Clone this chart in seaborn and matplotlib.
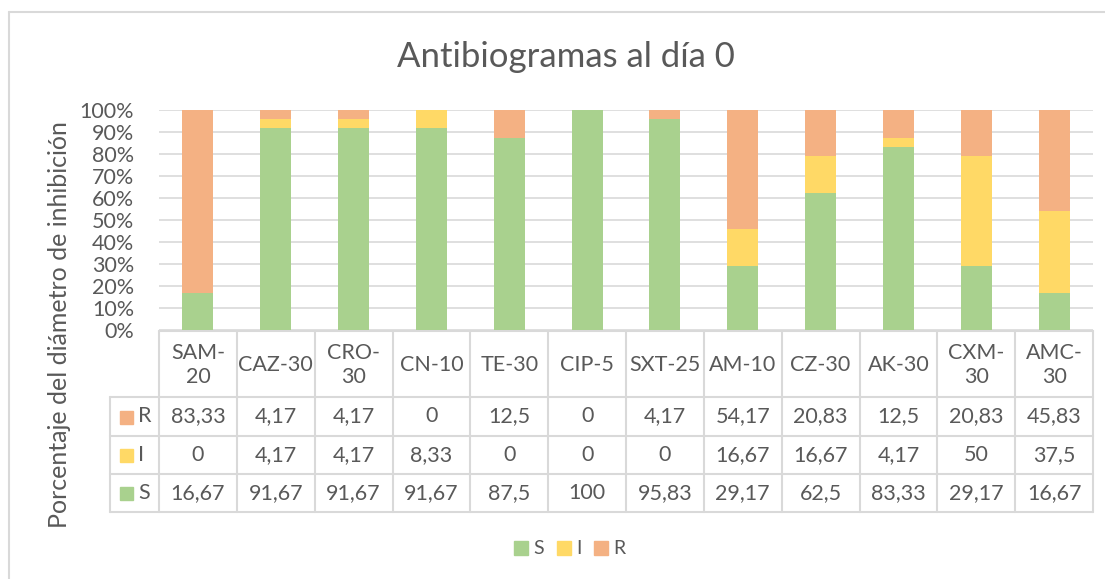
import numpy as np
import pandas as pd
import matplotlib
matplotlib.use("Agg")
import matplotlib.pyplot as plt
import seaborn as sns
from matplotlib.patches import Rectangle
from matplotlib.lines import Line2D

antibioticos = ['SAM-20', 'CAZ-30', 'CRO-30', 'CN-10', 'TE-30', 'CIP-5',
                'SXT-25', 'AM-10', 'CZ-30', 'AK-30', 'CXM-30', 'AMC-30']
etiquetas = ['SAM-\n20', 'CAZ-30', 'CRO-\n30', 'CN-10', 'TE-30', 'CIP-5',
             'SXT-25', 'AM-10', 'CZ-30', 'AK-30', 'CXM-\n30', 'AMC-\n30']
S = [16.67, 91.67, 91.67, 91.67, 87.5, 100, 95.83, 29.17, 62.5, 83.33, 29.17, 16.67]
I = [0, 4.17, 4.17, 8.33, 0, 0, 0, 16.67, 16.67, 4.17, 50, 37.5]
R = [83.33, 4.17, 4.17, 0, 12.5, 0, 4.17, 54.17, 20.83, 12.5, 20.83, 45.83]

colores = {'S': '#A9D18E', 'I': '#FFD966', 'R': '#F4B183'}
gris = '#595959'
borde = '#D9D9D9'

sns.set_theme(style='white')
plt.rcParams['font.family'] = ['Lato', 'DejaVu Sans']

W, H = 1105, 579
fig = plt.figure(figsize=(W / 100, H / 100), dpi=100)

x0, x1 = 159, 1093
y_top, y_cero = 110, 330
ax = fig.add_axes([x0 / W, 1 - y_cero / H, (x1 - x0) / W, (y_cero - y_top) / H])

df = pd.DataFrame({'ab': antibioticos, 'S': S, 'I': I, 'R': R})
base_i = np.array(S)
base_r = np.array(S) + np.array(I)
opts = dict(x='ab', width=0.4, ax=ax, saturation=1, zorder=3,
            edgecolor='none', linewidth=0)
sns.barplot(data=df, y='S', color=colores['S'], **opts)
sns.barplot(data=df, y='I', color=colores['I'], bottom=base_i, **opts)
sns.barplot(data=df, y='R', color=colores['R'], bottom=base_r, **opts)

ax.set_xlim(-0.5, 11.5)
ax.set_ylim(0, 100)
ax.set_yticks(np.arange(0, 101, 10))
ax.set_yticklabels([f'{v}%' for v in range(0, 101, 10)], fontsize=15.5, color=gris)
ax.tick_params(axis='y', length=0, pad=18)
ax.set_xticks([])
ax.set_xlabel('')
ax.set_ylabel('')
ax.yaxis.grid(True, color=borde, linewidth=1.2, zorder=0)
for s in ax.spines.values():
    s.set_visible(False)

# tabla de datos
tx = fig.add_axes([0, 0, 1, 1], zorder=-1)
tx.set_xlim(0, W)
tx.set_ylim(H, 0)
tx.axis('off')

cw = (x1 - x0) / 12
filas = [331, 397, 436, 474, 512]
hx = 110
lw = 1.5
tx.add_line(Line2D([x0, x1], [filas[0], filas[0]], color=borde, lw=lw))
for yy in filas[1:]:
    tx.add_line(Line2D([hx, x1], [yy, yy], color=borde, lw=lw))
for k in range(13):
    xx = x0 + k * cw
    tx.add_line(Line2D([xx, xx], [filas[0], filas[-1]], color=borde, lw=lw))
tx.add_line(Line2D([hx, hx], [filas[1], filas[-1]], color=borde, lw=lw))

for k, lab in enumerate(etiquetas):
    tx.text(x0 + (k + 0.5) * cw, (filas[0] + filas[1]) / 2 + 1, lab, ha='center',
            va='center', fontsize=15.5, color=gris, linespacing=1.2)

series = [('R', R), ('I', I), ('S', S)]
for j, (nombre, vals) in enumerate(series):
    yc = (filas[j + 1] + filas[j + 2]) / 2
    tx.add_patch(Rectangle((120, yc - 6), 13, 13, color=colores[nombre]))
    tx.text(138, yc, nombre, ha='left', va='center', fontsize=15.5, color=gris)
    for k, v in enumerate(vals):
        txt = f'{v:g}'.replace('.', ',')
        tx.text(x0 + (k + 0.5) * cw, yc, txt, ha='center', va='center',
                fontsize=15.5, color=gris)

# leyenda
ly = 548
lx = [514, 557, 594]
for (nombre, xx) in zip(['S', 'I', 'R'], lx):
    tx.add_patch(Rectangle((xx, ly - 7), 14, 14, color=colores[nombre]))
    tx.text(xx + 19, ly, nombre, ha='left', va='center', fontsize=14, color=gris)

# marco del grafico
tx.add_line(Line2D([9, 9], [12, H], color=borde, lw=1.5))
tx.add_line(Line2D([9, W], [12, 12], color=borde, lw=1.5))

fig.text(566 / W, 1 - 57 / H, 'Antibiogramas al día 0', ha='center', va='center',
         fontsize=25, color=gris)
fig.text(60 / W, 1 - 325 / H, 'Porcentaje del diámetro de inhibición', rotation=90,
         ha='center', va='center', fontsize=18, color=gris)

fig.savefig('out.png', dpi=100)
